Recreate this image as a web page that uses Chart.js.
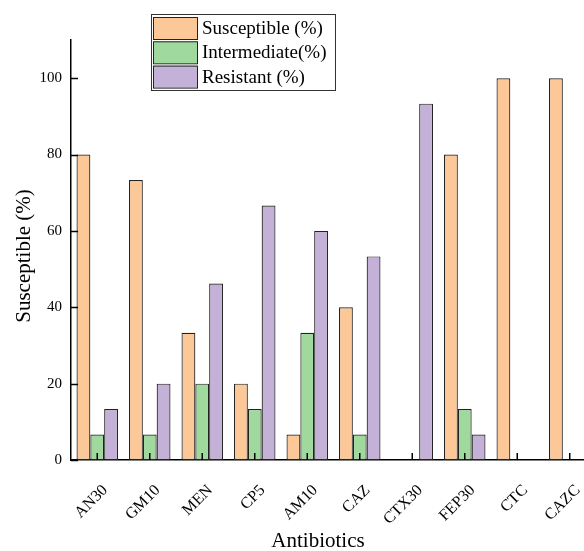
<!DOCTYPE html>
<html><head><meta charset="utf-8">
<script src="https://cdn.jsdelivr.net/npm/chart.js@4"></script>
<style>html,body{margin:0;padding:0;overflow:hidden;background:#fff}#wrap{width:600px;height:551px}</style>
</head><body><div id="wrap"><canvas id="c" width="600" height="551"></canvas></div>
<script>
const categories = ["AN30","GM10","MEN","CP5","AM10","CAZ","CTX30","FEP30","CTC","CAZC"];
const susceptible = [80, 73.33, 33.33, 20, 6.67, 40, 0, 80, 100, 100];
const intermediate = [6.67, 6.67, 20, 13.33, 33.33, 6.67, 0, 13.33, 0, 0];
const resistant = [13.33, 20, 46.2, 66.67, 60, 53.33, 93.33, 6.67, 0, 0];
const yTicks = [0, 20, 40, 60, 80, 100];
const xTitle = 'Antibiotics';
const yTitle = 'Susceptible (%)';

const FONT = "'Liberation Serif','Times New Roman',serif";
const colors = ["#FDC898", "#A0D99E", "#C3B1D7"];

const tickPlugin = {
  id: 'inTicks',
  afterDatasetsDraw(chart) {
    const ctx = chart.ctx, x = chart.scales.x, y = chart.scales.y;
    const base = y.getPixelForValue(0);
    ctx.save();
    ctx.strokeStyle = '#000';
    ctx.lineWidth = 1.5;
    ctx.beginPath();
    yTicks.forEach(v => {
      const py = Math.round(y.getPixelForValue(v)) + 0.5;
      ctx.moveTo(x.left, py); ctx.lineTo(x.left + 7, py);
    });
    categories.forEach((c, i) => {
      const px = x.getPixelForValue(i);
      ctx.moveTo(px, base); ctx.lineTo(px, base - 7);
    });
    ctx.stroke();
    // axis titles
    ctx.fillStyle = '#000';
    ctx.font = "21px " + FONT;
    ctx.textAlign = 'center';
    ctx.textBaseline = 'alphabetic';
    ctx.fillText(xTitle, 318, 547);
    ctx.save();
    ctx.translate(30, 256);
    ctx.rotate(-Math.PI / 2);
    ctx.fillText(yTitle, 0, 0);
    ctx.restore();
    // legend
    const lx = 151, ly = 14, lw = 184, lh = 76;
    ctx.fillStyle = '#fff';
    ctx.fillRect(lx, ly, lw, lh);
    ctx.strokeStyle = '#333';
    ctx.lineWidth = 1;
    ctx.strokeRect(lx + 0.5, ly + 0.5, lw, lh);
    ctx.font = "19px " + FONT;
    ctx.textAlign = 'left';
    ctx.textBaseline = 'middle';
    chart.data.datasets.forEach((ds, i) => {
      const sy = ly + 3 + i * 24.3;
      ctx.fillStyle = ds.backgroundColor;
      ctx.fillRect(lx + 2, sy, 44, 22);
      ctx.strokeStyle = '#222';
      ctx.strokeRect(lx + 2.5, sy + 0.5, 44, 22);
      ctx.fillStyle = '#000';
      ctx.fillText(ds.label, lx + 51, sy + 12);
    });
    ctx.restore();
  }
};

new Chart(document.getElementById('c'), {
  type: 'bar',
  data: {
    labels: categories,
    datasets: [
      { label: 'Susceptible (%)', data: susceptible, backgroundColor: colors[0] },
      { label: 'Intermediate(%)', data: intermediate, backgroundColor: colors[1] },
      { label: 'Resistant (%)', data: resistant, backgroundColor: colors[2] }
    ].map(d => Object.assign(d, { borderColor: '#222', borderWidth: 1.2, borderSkipped: false, barPercentage: 1, categoryPercentage: 0.79 }))
  },
  options: {
    responsive: false,
    animation: false,
    layout: { padding: { top: 40, right: 4, left: 0, bottom: 0 } },
    plugins: { legend: { display: false }, tooltip: { enabled: false } },
    scales: {
      x: {
        grid: { display: false, drawTicks: false },
        border: { color: '#000', width: 1.5 },
        ticks: { color: '#000', font: { family: FONT, size: 16 }, minRotation: 45, maxRotation: 45, padding: 21, labelOffset: 8, autoSkip: false },
        afterFit(s) { s.height = 91; s.paddingLeft = 0; s.paddingRight = 0; }
      },
      y: {
        min: 0, max: 110,
        afterBuildTicks(s) { s.ticks = yTicks.map(v => ({ value: v })); },
        grid: { display: false, drawTicks: false },
        border: { color: '#000', width: 1.5 },
        ticks: { color: '#000', font: { family: FONT, size: 15 }, padding: 9 },
        afterFit(s) { s.width = 71; }
      }
    }
  },
  plugins: [tickPlugin]
});
</script></body></html>
